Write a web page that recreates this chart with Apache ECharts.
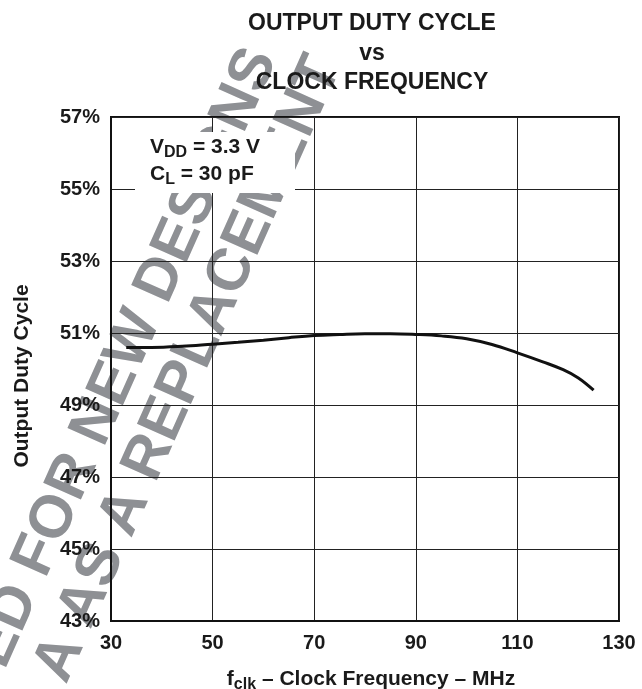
<!DOCTYPE html>
<html>
<head>
<meta charset="utf-8">
<script src="https://cdn.jsdelivr.net/npm/echarts@6/dist/echarts.min.js"></script>
<style>
  html, body { margin: 0; padding: 0; background: #fff; }
  #main { width: 642px; height: 689px; }
</style>
</head>
<body>
<div id="main"></div>
<script>
// clock frequency (MHz) and output duty cycle (%)
const freqMHz = [33, 38, 44, 50, 55, 60, 65, 70, 75, 80, 85, 90, 95, 100, 105, 110, 115, 119, 122, 125];
const dutyPct = [50.60, 50.60, 50.63, 50.69, 50.74, 50.80, 50.87, 50.93, 50.96, 50.98, 50.98, 50.96, 50.92, 50.84, 50.68, 50.45, 50.20, 49.98, 49.75, 49.41];

const yTicks = [43, 45, 47, 49, 51, 53, 55, 57];
const xTicks = [30, 50, 70, 90, 110, 130];

const titleLines = ['OUTPUT DUTY CYCLE', 'vs', 'CLOCK FREQUENCY'];
const yName = 'Output Duty Cycle';
const xName = ['f', 'clk', ' – Clock Frequency – MHz'];
const noteLines = [['V', 'DD', ' = 3.3 V'], ['C', 'L', ' = 30 pF']];
const stampLines = ['NOT RECOMMENDED FOR NEW DESIGNS', 'A AS A REPLACEMENT'];

const FONT = '"Liberation Sans", Arial, Helvetica, sans-serif';
const INK = '#1a1a1a';
const stampColor = '#8e9094';

const chart = echarts.init(document.getElementById('main'));

const points = freqMHz.map((f, i) => [f, dutyPct[i]]);

// watermark is turned counter-clockwise
const stampAngle = 66 * Math.PI / 180;

// normal text + subscript, as rich text
const subRich = (size, subSize, drop) => ({
    n: { font: 'bold ' + size + 'px ' + FONT, fill: INK },
    s: { font: 'bold ' + subSize + 'px ' + FONT, fill: INK, padding: [drop, 0, 0, 0] }
});
const withSub = l => '{n|' + l[0] + '}{s|' + l[1] + '}{n|' + l[2] + '}';

const option = {
    animation: false,
    backgroundColor: '#fff',
    textStyle: { fontFamily: FONT },
    title: {
        left: 367,
        top: 4,
        textAlign: 'center',
        text: titleLines.join('\n'),
        textStyle: {
            fontFamily: FONT,
            fontWeight: 'bold',
            fontSize: 23,
            lineHeight: 29.5,
            color: INK
        }
    },
    grid: {
        left: 111,
        right: 23,
        top: 117,
        bottom: 68,
        outerBoundsMode: 'none',
        containLabel: false,
        show: true,
        borderColor: '#111',
        borderWidth: 2
    },
    xAxis: {
        type: 'value',
        min: xTicks[0],
        max: xTicks[xTicks.length - 1],
        interval: 20,
        axisLine: { show: true, lineStyle: { color: '#111', width: 2 } },
        axisTick: { show: false },
        axisLabel: {
            margin: 12,
            fontFamily: FONT,
            fontWeight: 'bold',
            fontSize: 20,
            color: INK,
            showMaxLabel: true,
            showMinLabel: true
        },
        splitLine: { show: true, lineStyle: { color: '#222', width: 1 } }
    },
    yAxis: {
        type: 'value',
        min: yTicks[0],
        max: yTicks[yTicks.length - 1],
        interval: 2,
        axisLine: { show: true, lineStyle: { color: '#111', width: 2 } },
        axisTick: { show: false },
        axisLabel: {
            margin: 11,
            fontFamily: FONT,
            fontWeight: 'bold',
            fontSize: 20,
            color: INK,
            formatter: '{value}%'
        },
        splitLine: { show: true, lineStyle: { color: '#222', width: 1 } }
    },
    graphic: [
        {
            type: 'text',
            z: -10,
            x: 262,
            y: 52,
            rotation: stampAngle,
            style: {
                text: stampLines[0],
                fill: stampColor,
                font: 'bold 60px ' + FONT,
                textAlign: 'right',
                textVerticalAlign: 'middle'
            }
        },
        {
            type: 'text',
            z: -10,
            x: 326,
            y: 60,
            rotation: stampAngle,
            style: {
                text: stampLines[1],
                fill: stampColor,
                font: 'bold 60px ' + FONT,
                textAlign: 'right',
                textVerticalAlign: 'middle'
            }
        },
        {
            type: 'rect',
            z: 5,
            shape: { x: 135, y: 132, width: 160, height: 61 },
            style: { fill: '#fff' }
        },
        {
            type: 'text',
            z: 6,
            x: 150,
            y: 134,
            style: {
                text: noteLines.map(withSub).join('\n'),
                rich: {
                    n: { font: 'bold 21px ' + FONT, fill: INK, lineHeight: 27 },
                    s: { font: 'bold 16px ' + FONT, fill: INK, padding: [11, 0, 0, 0] }
                }
            }
        },
        {
            type: 'text',
            z: 6,
            x: 22,
            y: 376,
            rotation: Math.PI / 2,
            style: {
                text: yName,
                font: 'bold 21px ' + FONT,
                fill: INK,
                textAlign: 'center',
                textVerticalAlign: 'middle'
            }
        },
        {
            type: 'text',
            z: 6,
            x: 371,
            y: 679,
            style: {
                text: withSub(xName),
                rich: subRich(21, 16, 11),
                textAlign: 'center',
                textVerticalAlign: 'middle'
            }
        }
    ],
    series: [
        {
            type: 'line',
            data: points,
            smooth: 0.4,
            showSymbol: false,
            z: 3,
            lineStyle: { color: '#111', width: 3 }
        }
    ]
};

chart.setOption(option);
</script>
</body>
</html>
